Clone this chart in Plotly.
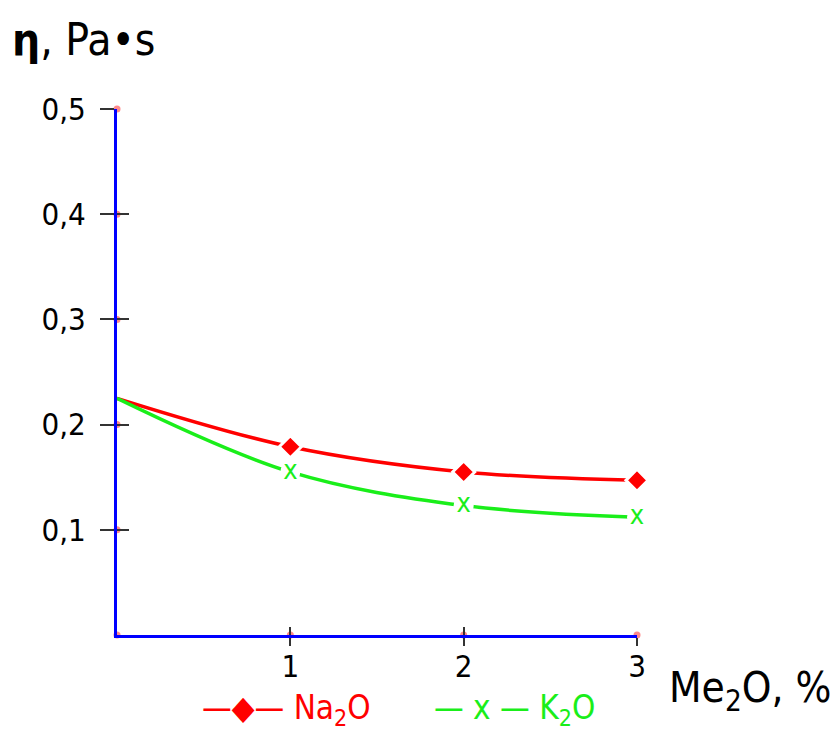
import plotly.graph_objects as go

# data
me2o = [0, 1, 2, 3]
na2o = [0.225, 0.179, 0.155, 0.147]
k2o = [0.225, 0.155, 0.123, 0.112]
x_ticks = [1, 2, 3]
y_ticks = [0.1, 0.2, 0.3, 0.4, 0.5]
y_ticklabels = ["0,1", "0,2", "0,3", "0,4", "0,5"]

RED = "#ff0000"
GREEN = "#1aee1a"
BLUE = "#0000ff"
TICK = "#333333"
FONT = "DejaVu Sans Condensed"

fig = go.Figure()

# curves
fig.add_trace(go.Scatter(x=me2o, y=na2o, mode="lines", line=dict(color=RED, width=3.5, shape="spline", smoothing=1.0),
                         showlegend=False, hoverinfo="skip", cliponaxis=False))
fig.add_trace(go.Scatter(x=me2o, y=k2o, mode="lines", line=dict(color=GREEN, width=3.5, shape="spline", smoothing=1.0),
                         showlegend=False, hoverinfo="skip", cliponaxis=False))

# white halos for gaps
fig.add_trace(go.Scatter(x=me2o[1:], y=k2o[1:], mode="markers",
                         marker=dict(color="white", size=20, symbol="circle"),
                         showlegend=False, hoverinfo="skip", cliponaxis=False))
# markers
fig.add_trace(go.Scatter(x=me2o[1:], y=na2o[1:], mode="markers",
                         marker=dict(color=RED, size=17, symbol="diamond", line=dict(color="white", width=3)),
                         showlegend=False, cliponaxis=False))
fig.add_trace(go.Scatter(x=me2o[1:], y=k2o[1:], mode="text", text=["x"] * 3,
                         textfont=dict(color=GREEN, size=27, family=FONT), textposition="middle center",
                         showlegend=False, cliponaxis=False))

# invisible trace on overlay axes so inner ticks get drawn
fig.add_trace(go.Scatter(x=[0], y=[0], xaxis="x2", yaxis="y2", mode="markers",
                         marker=dict(opacity=0), showlegend=False, hoverinfo="skip"))
# pink dots at tick positions (on overlay axes, drawn above the axis lines)
fig.add_trace(go.Scatter(x=[0] * (len(y_ticks) + 1) + x_ticks, y=[0] + y_ticks + [0] * len(x_ticks),
                         xaxis="x2", yaxis="y2",
                         mode="markers", marker=dict(color="#ff8a8a", size=7),
                         showlegend=False, hoverinfo="skip", cliponaxis=False))

fig.update_layout(
    xaxis=dict(range=[0, 3], showgrid=False, zeroline=False, showline=True, linecolor=BLUE, linewidth=3,
               tickvals=x_ticks, ticktext=[str(v) for v in x_ticks], ticks="outside", ticklen=8,
               tickwidth=1.5, tickcolor=TICK, ticklabelstandoff=-6,
               tickfont=dict(family=FONT, size=31, color="black")),
    yaxis=dict(range=[0, 0.5], showgrid=False, zeroline=False, showline=True, linecolor=BLUE, linewidth=3,
               tickvals=y_ticks, ticktext=y_ticklabels, ticks="outside", ticklen=14, tickwidth=1.5,
               tickcolor=TICK, ticklabelstandoff=8,
               tickfont=dict(family=FONT, size=31, color="black")),
    xaxis2=dict(range=[0, 3], overlaying="x", anchor="y2", side="bottom", showgrid=False, zeroline=False,
                showline=False, tickvals=x_ticks, ticks="inside", ticklen=8, tickwidth=1.5, tickcolor=TICK,
                showticklabels=False),
    yaxis2=dict(range=[0, 0.5], overlaying="y", anchor="x2", side="left", showgrid=False, zeroline=False,
                showline=False, tickvals=y_ticks, ticks="inside", ticklen=12, tickwidth=1.5, tickcolor=TICK,
                showticklabels=False),
)

fig.add_annotation(xref="paper", yref="paper", x=-0.205, y=1.0, yshift=70, xanchor="left", yanchor="middle",
                   text="<b>η</b>, Pa•s", showarrow=False, font=dict(family=FONT, size=44, color="black"))
fig.add_annotation(xref="paper", yref="paper", x=1.0, y=0, xshift=30, yshift=-55, xanchor="left", yanchor="middle",
                   text="Me<sub>2</sub>O, %", showarrow=False, font=dict(family=FONT, size=42, color="black"))

fig.add_annotation(xref="paper", yref="paper", x=0.16, y=0, yshift=-74, xanchor="left", yanchor="middle",
                   text="—◆— Na<sub>2</sub>O", showarrow=False, font=dict(family=FONT, size=33, color=RED))
fig.add_annotation(xref="paper", yref="paper", x=0.605, y=0, yshift=-74, xanchor="left", yanchor="middle",
                   text="— x — K<sub>2</sub>O", showarrow=False, font=dict(family=FONT, size=33, color=GREEN))

fig.update_layout(width=837, height=733, margin=dict(l=117, r=200, t=109, b=98),
                  plot_bgcolor="white", paper_bgcolor="white", showlegend=False)

fig.write_html("out.html")
